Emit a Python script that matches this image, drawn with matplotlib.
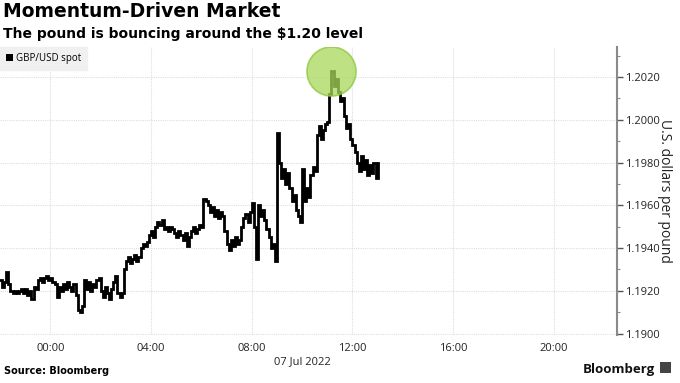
import matplotlib
matplotlib.use("Agg")
import matplotlib.pyplot as plt
import matplotlib.dates as mdates
from matplotlib.patches import Patch, Rectangle
import pandas as pd

# GBP/USD spot, 5-minute readings from 22:00 on 6 Jul 2022
start = "2022-07-06 22:00"
step = "5min"
gbpusd = [
    1.1925, 1.1922, 1.1924, 1.1929, 1.1923, 1.1920, 1.1919, 1.1920, 1.1919, 1.1920,
    1.1921, 1.1919, 1.1921, 1.1918, 1.1920, 1.1916, 1.1922, 1.1921, 1.1925, 1.1926,
    1.1924, 1.1926, 1.1927, 1.1925, 1.1926, 1.1924, 1.1923, 1.1917, 1.1922, 1.1920,
    1.1923, 1.1921, 1.1924, 1.1922, 1.1920, 1.1923, 1.1918, 1.1911, 1.1910, 1.1913,
    1.1925, 1.1921, 1.1924, 1.1920, 1.1923, 1.1922, 1.1925, 1.1926, 1.1920, 1.1917,
    1.1922, 1.1919, 1.1916, 1.1921, 1.1924, 1.1927, 1.1919, 1.1917, 1.1919, 1.1930,
    1.1934, 1.1936, 1.1933, 1.1935, 1.1937, 1.1934, 1.1936, 1.1940, 1.1942, 1.1941,
    1.1943, 1.1946, 1.1948, 1.1945, 1.1950, 1.1952, 1.1951, 1.1953, 1.1949, 1.1950,
    1.1948, 1.1950, 1.1949, 1.1947, 1.1945, 1.1948, 1.1946, 1.1944, 1.1947, 1.1941,
    1.1945, 1.1948, 1.1950, 1.1947, 1.1949, 1.1951, 1.1950, 1.1963, 1.1962, 1.1960,
    1.1957, 1.1959, 1.1955, 1.1958, 1.1954, 1.1957, 1.1955, 1.1948, 1.1942, 1.1939,
    1.1944, 1.1941, 1.1945, 1.1942, 1.1944, 1.1950, 1.1954, 1.1956, 1.1952, 1.1957,
    1.1961, 1.1950, 1.1935, 1.1960, 1.1955, 1.1958, 1.1953, 1.1949, 1.1945, 1.1940,
    1.1942, 1.1934, 1.1994, 1.1980, 1.1973, 1.1977, 1.1970, 1.1975, 1.1968, 1.1962,
    1.1965, 1.1958, 1.1955, 1.1952, 1.1977, 1.1962, 1.1968, 1.1964, 1.1974, 1.1978,
    1.1976, 1.1993, 1.1997, 1.1991, 1.1995, 1.1998, 1.1999, 1.2012, 1.2023, 1.2016,
    1.2019, 1.2013, 1.2009, 1.2010, 1.2002, 1.1996, 1.1998, 1.1991, 1.1988, 1.1985,
    1.1980, 1.1976, 1.1983, 1.1977, 1.1981, 1.1974, 1.1979, 1.1975, 1.1980, 1.1973,
    1.1980,
]
y_ticks = [1.1900, 1.1920, 1.1940, 1.1960, 1.1980, 1.2000, 1.2020]

times = pd.date_range(start, periods=len(gbpusd), freq=step)
s = pd.Series(gbpusd, index=times)

fig = plt.figure(figsize=(6.8, 3.83), dpi=100)
ax = fig.add_axes([0.0, 0.125, 0.907, 0.752])

ax.plot(s.index, s.values, color="black", lw=2.0, drawstyle="steps-post",
        solid_joinstyle="miter")

# highlight around the peak
peak_t = s.idxmax()
ax.scatter([peak_t], [s.max()], s=1250, color="#a8d85a", alpha=0.75,
           edgecolor="#8cc63f", linewidth=1.2, zorder=3)

ax.set_xlim(pd.Timestamp("2022-07-06 22:00"), pd.Timestamp("2022-07-07 22:30"))
ax.set_ylim(1.18993, 1.20340)

ax.xaxis.set_major_locator(mdates.HourLocator(byhour=range(0, 24, 4)))
ax.xaxis.set_major_formatter(mdates.DateFormatter("%H:%M"))
ax.set_yticks(y_ticks)
ax.set_yticks([v + 0.001 for v in y_ticks], minor=True)
ax.yaxis.set_major_formatter(plt.FuncFormatter(lambda v, p: f"{v:.4f}"))
ax.yaxis.tick_right()
ax.yaxis.set_label_position("right")

for sp in ["top", "left", "bottom"]:
    ax.spines[sp].set_visible(False)
ax.spines["right"].set_color("#8a8a8a")
ax.spines["right"].set_linewidth(1.5)

ax.tick_params(axis="x", length=0, pad=6, labelsize=8, labelcolor="#222222")
ax.tick_params(axis="y", which="major", length=4, width=1, color="#555555",
               pad=2, labelsize=8, labelcolor="#222222")
ax.tick_params(axis="y", which="minor", length=2.5, width=0.8, color="#888888")
for lab in ax.get_xticklabels() + ax.get_yticklabels():
    lab.set_family("Open Sans")

ax.grid(True, which="major", color="#dedede", linestyle=(0, (1, 1)), lw=0.8)
ax.set_axisbelow(True)

ax.set_ylabel("U.S. dollars per pound", rotation=-90, labelpad=9, va="top",
              fontsize=10, color="#222222", family="Open Sans")

leg = ax.legend(handles=[Patch(facecolor="black", label="GBP/USD spot")],
                loc="upper left", bbox_to_anchor=(0.0, 1.0), frameon=True,
                fancybox=False, framealpha=1, facecolor="#f0f0f0",
                edgecolor="#f0f0f0", handlelength=0.7, handleheight=0.7,
                handletextpad=0.3, borderpad=0.6, borderaxespad=0.0,
                prop={"family": "Open Sans", "size": 7})

fig.text(0.004, 0.995, "Momentum-Driven Market", fontsize=13.5, fontweight="bold",
         va="top", ha="left", family="DejaVu Sans")
fig.text(0.004, 0.93, "The pound is bouncing around the $1.20 level", fontsize=10,
         fontweight="bold", va="top", ha="left", family="DejaVu Sans")
fig.text(0.445, 0.055, "07 Jul 2022", fontsize=8, color="#222222",
         ha="center", va="center", family="Open Sans")
fig.text(0.006, 0.018, "Source: Bloomberg", fontsize=7, fontweight="bold",
         ha="left", va="bottom", family="DejaVu Sans")
fig.text(0.963, 0.018, "Bloomberg", fontsize=9.5, fontweight="bold",
         ha="right", va="bottom", family="Open Sans", color="#111111")
fig.patches.append(Rectangle((0.971, 0.025), 0.016, 0.03, transform=fig.transFigure,
                             facecolor="#444444", edgecolor="none"))

fig.savefig("out.png", dpi=100)
